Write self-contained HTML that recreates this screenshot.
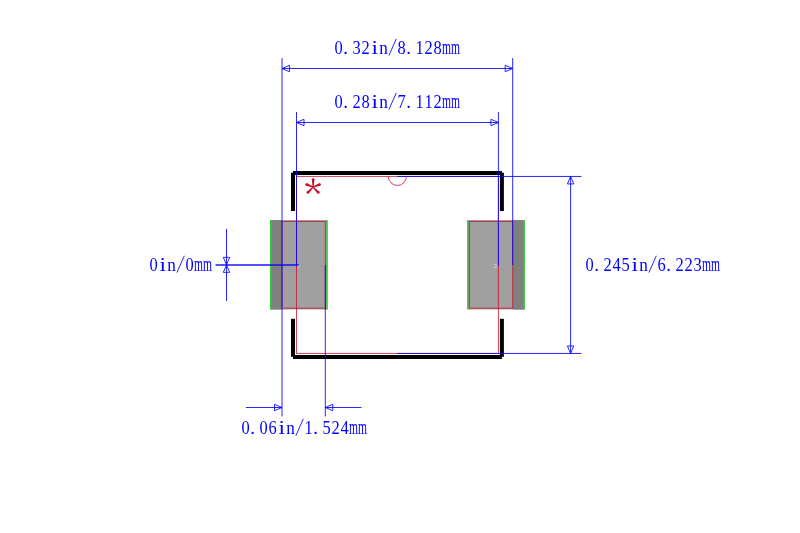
<!DOCTYPE html>
<html><head><meta charset="utf-8"><title>footprint</title>
<style>
html,body{margin:0;padding:0;background:#ffffff;}
body{width:800px;height:533px;overflow:hidden;font-family:"Liberation Sans",sans-serif;}
svg{display:block;will-change:transform;}
</style></head>
<body>
<svg width="800" height="533" viewBox="0 0 800 533">
<rect x="0" y="0" width="800" height="533" fill="#ffffff"/>
<rect x="270.5" y="220" width="57" height="89.5" fill="#a0a0a0"/>
<rect x="270.5" y="220" width="11.5" height="89.5" fill="#808080"/>
<rect x="467.3" y="220" width="57" height="89.5" fill="#a0a0a0"/>
<rect x="512.7" y="220" width="11.6" height="89.5" fill="#808080"/>
<line x1="270.7" y1="220" x2="270.7" y2="309.5" stroke="#32cd32" stroke-width="1.4" />
<line x1="327.0" y1="220" x2="327.0" y2="309.5" stroke="#32cd32" stroke-width="1.4" />
<line x1="467.8" y1="220" x2="467.8" y2="309.5" stroke="#32cd32" stroke-width="1.4" />
<line x1="524.2" y1="220" x2="524.2" y2="309.5" stroke="#32cd32" stroke-width="1.4" />
<rect x="296.5" y="176.45" width="201.89999999999998" height="177.0" fill="none" stroke="#c8102e" stroke-width="1" stroke-opacity="0.78"/>
<rect x="282.0" y="221.5" width="43.3" height="86.7" fill="none" stroke="#c8102e" stroke-width="1" stroke-opacity="0.78"/>
<rect x="469.4" y="221.5" width="43.3" height="86.7" fill="none" stroke="#c8102e" stroke-width="1" stroke-opacity="0.78"/>
<path d="M 388.35 176.45 A 9 9 0 0 0 406.35 176.45" fill="none" stroke="#c8102e" stroke-width="1" stroke-opacity="0.78"/>
<line x1="293" y1="173.0" x2="501.9" y2="173.0" stroke="#000" stroke-width="4"/>
<line x1="293" y1="172.7" x2="293" y2="211" stroke="#000" stroke-width="4"/>
<line x1="501.9" y1="172.7" x2="501.9" y2="211" stroke="#000" stroke-width="4"/>
<line x1="293" y1="357.0" x2="501.9" y2="357.0" stroke="#000" stroke-width="4"/>
<line x1="293" y1="318.8" x2="293" y2="356.8" stroke="#000" stroke-width="4"/>
<line x1="501.9" y1="318.8" x2="501.9" y2="356.8" stroke="#000" stroke-width="4"/>
<line x1="282.0" y1="58" x2="282.0" y2="416.5" stroke="#0000ff" stroke-width="1" stroke-opacity="0.85"/>
<line x1="512.7" y1="58" x2="512.7" y2="265" stroke="#0000ff" stroke-width="1" stroke-opacity="0.85"/>
<line x1="296.5" y1="112" x2="296.5" y2="265.5" stroke="#0000ff" stroke-width="1" stroke-opacity="0.85"/>
<line x1="498.4" y1="112" x2="498.4" y2="265.5" stroke="#0000ff" stroke-width="1" stroke-opacity="0.85"/>
<line x1="325.3" y1="265" x2="325.3" y2="416.5" stroke="#0000ff" stroke-width="1" stroke-opacity="0.85"/>
<line x1="397.35" y1="176.45" x2="581.5" y2="176.45" stroke="#0000ff" stroke-width="1" stroke-opacity="0.85"/>
<line x1="397.35" y1="353.45" x2="581.5" y2="353.45" stroke="#0000ff" stroke-width="1" stroke-opacity="0.85"/>
<line x1="215.5" y1="265.0" x2="299" y2="265.0" stroke="#0000ff" stroke-width="1.5" stroke-opacity="0.9"/>
<line x1="282.0" y1="68.5" x2="512.7" y2="68.5" stroke="#0000ff" stroke-width="1" stroke-opacity="0.85"/>
<polygon points="282.00,68.50 289.50,65.30 289.50,71.70" fill="none" stroke="#0000ff" stroke-width="1" stroke-opacity="0.85"/>
<polygon points="512.70,68.50 505.20,65.30 505.20,71.70" fill="none" stroke="#0000ff" stroke-width="1" stroke-opacity="0.85"/>
<line x1="296.5" y1="122.5" x2="498.4" y2="122.5" stroke="#0000ff" stroke-width="1" stroke-opacity="0.85"/>
<polygon points="296.50,122.50 304.00,119.30 304.00,125.70" fill="none" stroke="#0000ff" stroke-width="1" stroke-opacity="0.85"/>
<polygon points="498.40,122.50 490.90,119.30 490.90,125.70" fill="none" stroke="#0000ff" stroke-width="1" stroke-opacity="0.85"/>
<line x1="570.6" y1="176.45" x2="570.6" y2="353.45" stroke="#0000ff" stroke-width="1" stroke-opacity="0.85"/>
<polygon points="570.60,176.45 567.40,183.95 573.80,183.95" fill="none" stroke="#0000ff" stroke-width="1" stroke-opacity="0.85"/>
<polygon points="570.60,353.45 567.40,345.95 573.80,345.95" fill="none" stroke="#0000ff" stroke-width="1" stroke-opacity="0.85"/>
<line x1="246" y1="407.5" x2="282.0" y2="407.5" stroke="#0000ff" stroke-width="1" stroke-opacity="0.85"/>
<polygon points="282.00,407.50 274.50,404.30 274.50,410.70" fill="none" stroke="#0000ff" stroke-width="1" stroke-opacity="0.85"/>
<line x1="325.3" y1="407.5" x2="361.5" y2="407.5" stroke="#0000ff" stroke-width="1" stroke-opacity="0.85"/>
<polygon points="325.30,407.50 332.80,404.30 332.80,410.70" fill="none" stroke="#0000ff" stroke-width="1" stroke-opacity="0.85"/>
<line x1="226.5" y1="229" x2="226.5" y2="301" stroke="#0000ff" stroke-width="1" stroke-opacity="0.85"/>
<polygon points="226.50,264.85 223.30,257.35 229.70,257.35" fill="none" stroke="#0000ff" stroke-width="1" stroke-opacity="0.85"/>
<polygon points="226.50,264.85 223.30,272.35 229.70,272.35" fill="none" stroke="#0000ff" stroke-width="1" stroke-opacity="0.85"/>
<polygon points="313.65,187.10 314.40,179.60 311.80,179.60 312.55,187.10" fill="#c8102e"/>
<circle cx="313.10" cy="179.60" r="1.3" fill="#c8102e"/>
<polygon points="313.30,187.61 320.09,185.74 319.14,183.32 312.90,186.59" fill="#c8102e"/>
<circle cx="319.61" cy="184.53" r="1.3" fill="#c8102e"/>
<polygon points="312.70,187.48 317.44,193.47 319.31,191.66 313.50,186.72" fill="#c8102e"/>
<circle cx="318.38" cy="192.57" r="1.3" fill="#c8102e"/>
<polygon points="312.70,186.72 306.89,191.66 308.76,193.47 313.50,187.48" fill="#c8102e"/>
<circle cx="307.82" cy="192.57" r="1.3" fill="#c8102e"/>
<polygon points="313.30,186.59 307.06,183.32 306.11,185.74 312.90,187.61" fill="#c8102e"/>
<circle cx="306.59" cy="184.53" r="1.3" fill="#c8102e"/>
<circle cx="313.1" cy="187.1" r="0.9" fill="#c8102e"/>
<g font-family="'Liberation Serif', serif" font-size="19" fill="#0000ff" opacity="0.999"><text x="334.40" y="54" textLength="8.2" lengthAdjust="spacingAndGlyphs">0</text>
<text x="343.30" y="54">.</text>
<text x="352.40" y="54" textLength="8.2" lengthAdjust="spacingAndGlyphs">3</text>
<text x="361.40" y="54" textLength="8.2" lengthAdjust="spacingAndGlyphs">2</text>
<text x="371.50" y="54" textLength="6.5" lengthAdjust="spacingAndGlyphs">i</text>
<text x="379.30" y="54" textLength="8.6" lengthAdjust="spacingAndGlyphs">n</text>
<line x1="396.30" y1="38.8" x2="388.90" y2="55.6" stroke="#0000ff" stroke-width="0.95" stroke-opacity="0.9"/>
<text x="397.40" y="54" textLength="8.2" lengthAdjust="spacingAndGlyphs">8</text>
<text x="406.30" y="54">.</text>
<text x="415.40" y="54" textLength="8.2" lengthAdjust="spacingAndGlyphs">1</text>
<text x="424.40" y="54" textLength="8.2" lengthAdjust="spacingAndGlyphs">2</text>
<text x="433.40" y="54" textLength="8.2" lengthAdjust="spacingAndGlyphs">8</text>
<text x="442.00" y="54" textLength="9" lengthAdjust="spacingAndGlyphs" font-size="21">m</text>
<text x="451.00" y="54" textLength="9" lengthAdjust="spacingAndGlyphs" font-size="21">m</text>
<text x="334.40" y="108" textLength="8.2" lengthAdjust="spacingAndGlyphs">0</text>
<text x="343.30" y="108">.</text>
<text x="352.40" y="108" textLength="8.2" lengthAdjust="spacingAndGlyphs">2</text>
<text x="361.40" y="108" textLength="8.2" lengthAdjust="spacingAndGlyphs">8</text>
<text x="371.50" y="108" textLength="6.5" lengthAdjust="spacingAndGlyphs">i</text>
<text x="379.30" y="108" textLength="8.6" lengthAdjust="spacingAndGlyphs">n</text>
<line x1="396.30" y1="92.8" x2="388.90" y2="109.6" stroke="#0000ff" stroke-width="0.95" stroke-opacity="0.9"/>
<text x="397.40" y="108" textLength="8.2" lengthAdjust="spacingAndGlyphs">7</text>
<text x="406.30" y="108">.</text>
<text x="415.40" y="108" textLength="8.2" lengthAdjust="spacingAndGlyphs">1</text>
<text x="424.40" y="108" textLength="8.2" lengthAdjust="spacingAndGlyphs">1</text>
<text x="433.40" y="108" textLength="8.2" lengthAdjust="spacingAndGlyphs">2</text>
<text x="442.00" y="108" textLength="9" lengthAdjust="spacingAndGlyphs" font-size="21">m</text>
<text x="451.00" y="108" textLength="9" lengthAdjust="spacingAndGlyphs" font-size="21">m</text>
<text x="149.40" y="271" textLength="8.2" lengthAdjust="spacingAndGlyphs">0</text>
<text x="159.50" y="271" textLength="6.5" lengthAdjust="spacingAndGlyphs">i</text>
<text x="167.30" y="271" textLength="8.6" lengthAdjust="spacingAndGlyphs">n</text>
<line x1="184.30" y1="255.8" x2="176.90" y2="272.6" stroke="#0000ff" stroke-width="0.95" stroke-opacity="0.9"/>
<text x="185.40" y="271" textLength="8.2" lengthAdjust="spacingAndGlyphs">0</text>
<text x="194.00" y="271" textLength="9" lengthAdjust="spacingAndGlyphs" font-size="21">m</text>
<text x="203.00" y="271" textLength="9" lengthAdjust="spacingAndGlyphs" font-size="21">m</text>
<text x="585.40" y="271" textLength="8.2" lengthAdjust="spacingAndGlyphs">0</text>
<text x="594.30" y="271">.</text>
<text x="603.40" y="271" textLength="8.2" lengthAdjust="spacingAndGlyphs">2</text>
<text x="612.40" y="271" textLength="8.2" lengthAdjust="spacingAndGlyphs">4</text>
<text x="621.40" y="271" textLength="8.2" lengthAdjust="spacingAndGlyphs">5</text>
<text x="631.50" y="271" textLength="6.5" lengthAdjust="spacingAndGlyphs">i</text>
<text x="639.30" y="271" textLength="8.6" lengthAdjust="spacingAndGlyphs">n</text>
<line x1="656.30" y1="255.8" x2="648.90" y2="272.6" stroke="#0000ff" stroke-width="0.95" stroke-opacity="0.9"/>
<text x="657.40" y="271" textLength="8.2" lengthAdjust="spacingAndGlyphs">6</text>
<text x="666.30" y="271">.</text>
<text x="675.40" y="271" textLength="8.2" lengthAdjust="spacingAndGlyphs">2</text>
<text x="684.40" y="271" textLength="8.2" lengthAdjust="spacingAndGlyphs">2</text>
<text x="693.40" y="271" textLength="8.2" lengthAdjust="spacingAndGlyphs">3</text>
<text x="702.00" y="271" textLength="9" lengthAdjust="spacingAndGlyphs" font-size="21">m</text>
<text x="711.00" y="271" textLength="9" lengthAdjust="spacingAndGlyphs" font-size="21">m</text>
<text x="241.40" y="434" textLength="8.2" lengthAdjust="spacingAndGlyphs">0</text>
<text x="250.30" y="434">.</text>
<text x="259.40" y="434" textLength="8.2" lengthAdjust="spacingAndGlyphs">0</text>
<text x="268.40" y="434" textLength="8.2" lengthAdjust="spacingAndGlyphs">6</text>
<text x="278.50" y="434" textLength="6.5" lengthAdjust="spacingAndGlyphs">i</text>
<text x="286.30" y="434" textLength="8.6" lengthAdjust="spacingAndGlyphs">n</text>
<line x1="303.30" y1="418.8" x2="295.90" y2="435.6" stroke="#0000ff" stroke-width="0.95" stroke-opacity="0.9"/>
<text x="304.40" y="434" textLength="8.2" lengthAdjust="spacingAndGlyphs">1</text>
<text x="313.30" y="434">.</text>
<text x="322.40" y="434" textLength="8.2" lengthAdjust="spacingAndGlyphs">5</text>
<text x="331.40" y="434" textLength="8.2" lengthAdjust="spacingAndGlyphs">2</text>
<text x="340.40" y="434" textLength="8.2" lengthAdjust="spacingAndGlyphs">4</text>
<text x="349.00" y="434" textLength="9" lengthAdjust="spacingAndGlyphs" font-size="21">m</text>
<text x="358.00" y="434" textLength="9" lengthAdjust="spacingAndGlyphs" font-size="21">m</text></g>
<g font-family="'Liberation Sans', sans-serif" font-size="5.5" fill="#e0e0e0"><text x="297.8" y="268.3" font-size="4">1</text><text x="494.0" y="268.2">2</text></g>
</svg>
</body></html>
